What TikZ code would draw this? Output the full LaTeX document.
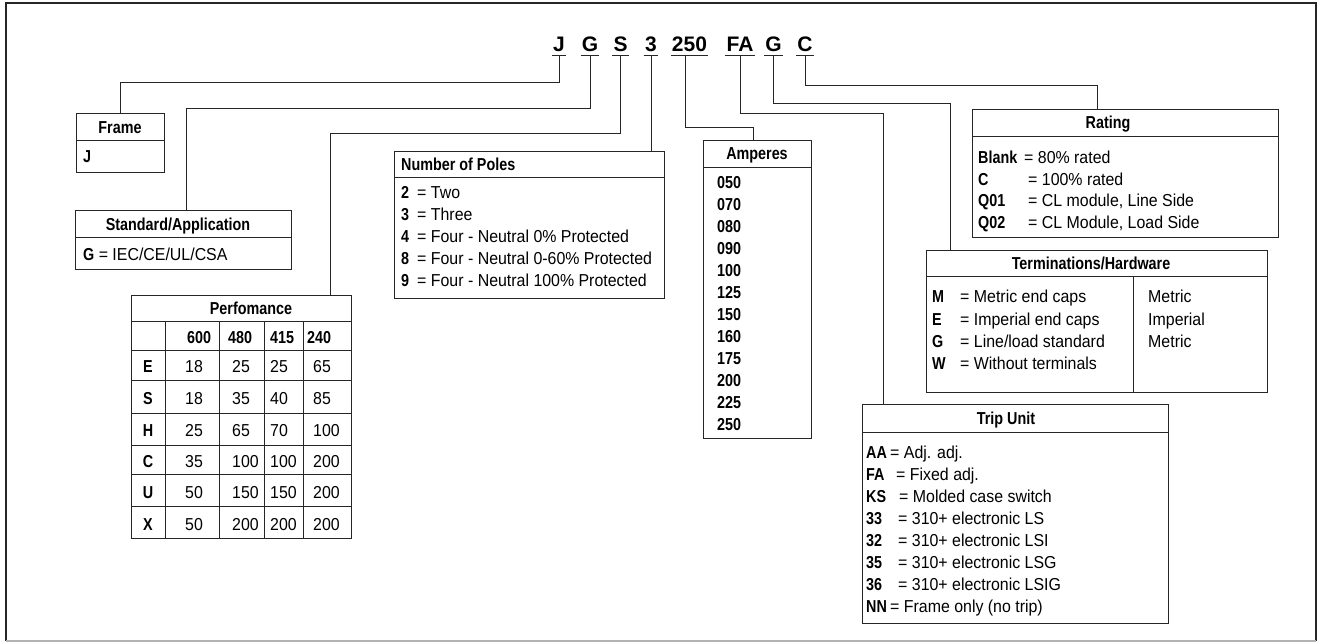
\documentclass[tikz,border=0pt]{standalone}
\usepackage{fontspec}
\setmainfont{Liberation Sans}
\newfontfamily\rcf{Liberation Sans}[FakeStretch=0.92]
\newfontfamily\bcf{Liberation Sans}[FakeStretch=0.83]
\begin{document}
\begin{tikzpicture}[x=1pt,y=-1pt,
  ln/.style={draw=black!85, line width=0.9pt},
  box/.style={ln, inner sep=0pt, outer sep=0pt, anchor=north west},
  t/.style={inner sep=0pt, text height=12.4pt, text depth=0pt, font=\fontsize{17.3}{20}\selectfont\rcf},
  tb/.style={t, font=\fontsize{17.3}{20}\selectfont\bcf\bfseries},
  tw/.style={t, anchor=west},
  tbw/.style={tb, anchor=west},
  code/.style={font=\fontsize{21}{25}\selectfont\bfseries, inner xsep=1pt, inner ysep=0pt, text depth=4pt, anchor=base},
  uline/.style={draw=black!85, line width=1.4pt},
  conn/.style={ln}]
\useasboundingbox (0,0) rectangle (1321,643);
% outer frame
\draw[line width=1.2pt, black!85] (6,641) -- (6,3) -- (1316,3) -- (1316,641);
\draw[line width=1.2pt, black!30] (6,641) -- (1316,641);

% code letters
\node[code] (cJ)  at (559,51.5) {J};
\node[code] (cG)  at (590,51.5) {G};
\node[code] (cS)  at (620.5,51.5) {S};
\node[code] (c3)  at (651,51.5) {3};
\node[code] (c250) at (689.5,51.5) {250};
\node[code] (cFA) at (740,51.5) {FA};
\node[code] (cG2) at (773.5,51.5) {G};
\node[code] (cC)  at (805,51.5) {C};
\foreach \n in {cJ,cG,cS,c3,c250,cFA,cG2,cC}
  \draw[uline] (\n.south west) -- (\n.south east);

% Frame
\node[box, minimum width=88pt, minimum height=59pt] (frame) at (76,113) {};
\draw[ln] (frame.west |- 0,140) -- (frame.east |- 0,140);
\node[tb] (frameh) at (120,127) {Frame};
\node[tbw] (framej) at (83,156) {J};

% Standard/Application
\node[box, minimum width=216pt, minimum height=59pt] (std) at (75,210) {};
\draw[ln] (std.west |- 0,237) -- (std.east |- 0,237);
\node[tb] (stdh) at (178,224) {Standard/Application};
\node[tw] (stdg) at (83,254) {{\bcf\bfseries G} = IEC/CE/UL/CSA};

% Performance
\node[box, minimum width=220pt, minimum height=243pt] (perf) at (131,295) {};
\draw[ln] (perf.west |- 0,321) -- (perf.east |- 0,321);
\foreach \x in {165,219,264,303} \draw[ln] (\x,321) -- (perf.south -| \x,0);
\foreach \y in {350,380,413,445,474,506} \draw[ln] (perf.west |- 0,\y) -- (perf.east |- 0,\y);
\node[tb] (perfh) at (251,308) {Perfomance};
\node[tbw] (ph1) at (187,337) {600};
\node[tbw] (ph2) at (228,337) {480};
\node[tbw] (ph3) at (270,337) {415};
\node[tbw] (ph4) at (307,337) {240};
\foreach \lab/\y/\a/\b/\c/\d [count=\r] in {E/366/18/25/25/65, S/398/18/35/40/85, H/430/25/65/70/100, C/461/35/100/100/200, U/492/50/150/150/200, X/524/50/200/200/200} {
  \node[tb] (p\r-0) at (148,\y) {\lab};
  \node[tw] (p\r-1) at (185,\y) {\a};
  \node[tw] (p\r-2) at (232,\y) {\b};
  \node[tw] (p\r-3) at (270,\y) {\c};
  \node[tw] (p\r-4) at (313,\y) {\d};
}

% Number of Poles
\node[box, minimum width=270pt, minimum height=147pt] (nop) at (394,151) {};
\draw[ln] (nop.west |- 0,177) -- (nop.east |- 0,177);
\node[tbw] (noph) at (401,164) {Number of Poles};
\foreach \k/\txt [count=\i from 0] in {2/Two, 3/Three, 4/Four - Neutral 0\% Protected, 8/Four - Neutral 0-60\% Protected, 9/Four - Neutral 100\% Protected} {
  \node[tbw] (nk\i) at (401,{192+22*\i}) {\k};
  \node[tw] (nt\i) at (417,{192+22*\i}) {= \txt};
}

% Amperes
\node[box, minimum width=108pt, minimum height=298pt] (amp) at (703,140) {};
\draw[ln] (amp.west |- 0,167) -- (amp.east |- 0,167);
\node[tb] (amph) at (757,153) {Amperes};
\foreach \v [count=\i from 0] in {050,070,080,090,100,125,150,160,175,200,225,250}
  \node[tbw] (a\i) at (717,{182+22*\i}) {\v};

% Rating
\node[box, minimum width=306pt, minimum height=128pt] (rate) at (972,109) {};
\draw[ln] (rate.west |- 0,136) -- (rate.east |- 0,136);
\node[tb] (rateh) at (1108,122) {Rating};
\node[tbw] (rk0) at (978,157.5) {Blank};
\node[tw]  (rt0) at (1024,157.5) {= 80\% rated};
\node[tbw] (rk1) at (978,179) {C};
\node[tw]  (rt1) at (1028,179) {= 100\% rated};
\node[tbw] (rk2) at (978,200.5) {Q01};
\node[tw]  (rt2) at (1028,200.5) {= CL module, Line Side};
\node[tbw] (rk3) at (978,222) {Q02};
\node[tw]  (rt3) at (1028,222) {= CL Module, Load Side};

% Terminations/Hardware
\node[box, minimum width=341pt, minimum height=142pt] (term) at (926,250) {};
\draw[ln] (term.west |- 0,276) -- (term.east |- 0,276);
\draw[ln] (1133,276) -- (term.south -| 1133,0);
\node[tb] (termh) at (1091,263) {Terminations/Hardware};
\node[tbw] (tk0) at (932,296) {M};
\node[tw]  (tt0) at (960,296) {= Metric end caps};
\node[tw]  (tr0) at (1148,296) {Metric};
\node[tbw] (tk1) at (932,319) {E};
\node[tw]  (tt1) at (960,319) {= Imperial end caps};
\node[tw]  (tr1) at (1148,319) {Imperial};
\node[tbw] (tk2) at (932,341) {G};
\node[tw]  (tt2) at (960,341) {= Line/load standard};
\node[tw]  (tr2) at (1148,341) {Metric};
\node[tbw] (tk3) at (932,363) {W};
\node[tw]  (tt3) at (960,363) {= Without terminals};

% Trip Unit
\node[box, minimum width=306pt, minimum height=219pt] (trip) at (862,404) {};
\draw[ln] (trip.west |- 0,432) -- (trip.east |- 0,432);
\node[tb] (triph) at (1006,418) {Trip Unit};
\foreach \k/\ex/\txt [count=\i from 0] in {AA/890/Adj. adj., FA/896/Fixed adj., KS/899/Molded case switch, 33/898/310+ electronic LS, 32/898/310+ electronic LSI, 35/898/310+ electronic LSG, 36/898/310+ electronic LSIG, NN/890/Frame only (no trip)} {
  \node[tbw] (uk\i) at (866,{452+22*\i}) {\k};
  \node[tw]  (ut\i) at (\ex,{452+22*\i}) {= \txt};
}

% connectors
\draw[conn] (cJ.south) |- (120,82) -- (frame.north);
\draw[conn] (cG.south) |- (186,108) -- (std.north -| 186,0);
\draw[conn] (cS.south) |- (330,133) -- (perf.north -| 330,0);
\draw[conn] (c3.south) -- (nop.north -| c3.south);
\draw[conn] ([xshift=-4pt]c250.south) |- (753,127) -- (amp.north -| 753,0);
\draw[conn] (cFA.south) |- (883,113) -- (trip.north -| 883,0);
\draw[conn] (cG2.south) |- (950,103) -- (term.north -| 950,0);
\draw[conn] (cC.south) |- (1097,85) -- (rate.north -| 1097,0);
\end{tikzpicture}
\end{document}
